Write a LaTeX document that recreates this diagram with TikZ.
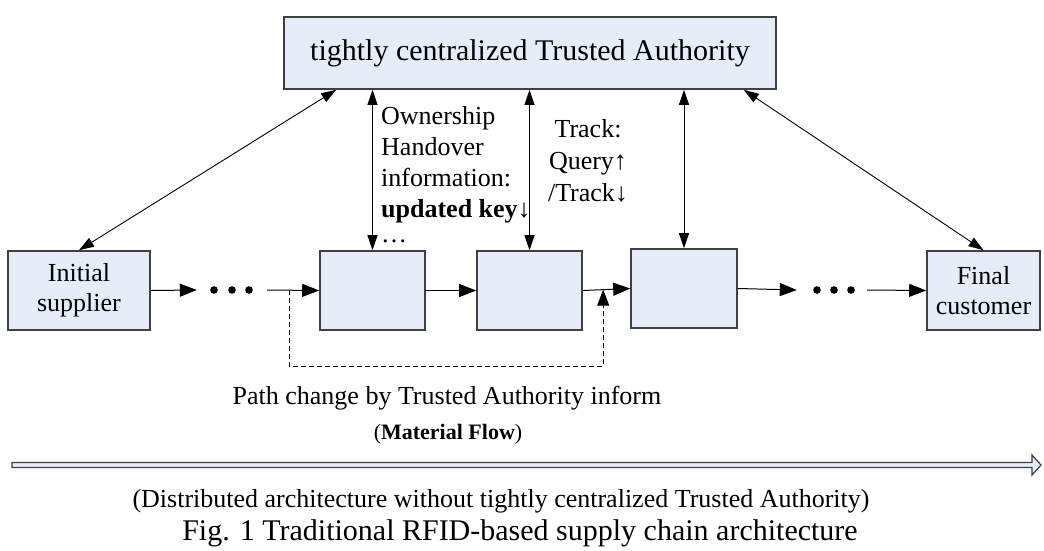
\documentclass[tikz,border=0pt]{standalone}
\usepackage{fontspec}
\setmainfont{Liberation Serif}
\usetikzlibrary{arrows.meta,calc}
\definecolor{boxfill}{RGB}{230,237,248}
\definecolor{boxline}{RGB}{64,64,64}
\begin{document}
\begin{tikzpicture}[x=1pt,y=-1pt,
  stage/.style={draw=boxline, line width=1.6pt, fill=boxfill, inner sep=0pt,
    minimum height=79pt, align=center, font=\fontsize{26}{30}\selectfont},
  flow/.style={line width=1pt, -{Triangle[length=17pt,width=13pt]}},
  link/.style={line width=0.9pt,
    {Triangle[length=15pt,width=10pt]}-{Triangle[length=15pt,width=10pt]}},
  lbl/.style={inner sep=0pt, font=\fontsize{26}{31}\selectfont},
  dotgap/.style={minimum width=70pt, minimum height=8pt, inner sep=0pt},
  reroute/.style={line width=0.9pt, dash pattern=on 5pt off 3pt,
    -{Triangle[length=16pt,width=12pt]}},
]
\useasboundingbox (0,0) rectangle (1044,550);

% trusted authority and supply chain stages
\node[stage, minimum width=492pt, minimum height=72pt,
  font=\fontsize{30}{36}\selectfont] (ta) at (530,53)
  {tightly centralized Trusted Authority};
\node[stage, minimum width=142pt] (init) at (79,290.5) {Initial\\supplier};
\node[stage, minimum width=105pt] (s2) at (372.5,290.5) {};
\node[stage, minimum width=105pt] (s3) at (529.5,290.5) {};
\node[stage, minimum width=106pt] (s4) at (684,288.5) {};
\node[stage, minimum width=113pt] (final) at (983.5,290.5) {Final\\customer};

% elided stages drawn as three dots
\node[dotgap] (dotsL) at (232,290) {};
\node[dotgap] (dotsR) at (832,290) {};
\foreach \dx in {-18,0,17} \fill ($(dotsL)+(\dx,0)$) circle (3.8pt);
\foreach \dx in {-15,2,19} \fill ($(dotsR)+(\dx,0)$) circle (3.8pt);

% material flow along the chain
\draw[flow] (init.east) -- (dotsL.west);
\draw[flow] (dotsL.east) -- (s2.west);
\draw[flow] (s2.east) -- (s3.west);
\draw[flow] (s3.east) -- (s4.west);
\draw[flow] (s4.east) -- (dotsR.west);
\draw[flow] (dotsR.east) -- (final.west);

% rerouted path
\coordinate (split) at ($(dotsL.east)!0.42!(s2.west)$);
\coordinate (merge) at ($(s3.east)!0.43!(s4.west)$);
\draw[reroute] (split) -- ++(0,76) -| (merge);

% links to the trusted authority
\draw[link] ($(ta.south west)+(53,0)$) -- (init.north);
\draw[link] (s2.north |- ta.south) -- (s2.north);
\draw[link] (s3.north |- ta.south) -- (s3.north);
\draw[link] (s4.north |- ta.south) -- (s4.north);
\draw[link] ($(ta.south east)+(-33,0)$) -- (final.north);

% labels
\node[lbl, anchor=north west, align=left] (own) at (381,106)
  {Ownership\\Handover\\information:\\\textbf{updated key}↓\\[-6pt]…};
\node[lbl, anchor=north, align=center, font=\fontsize{26}{32}\selectfont] (trk)
  at (588,119) {Track:\\Query↑\\/Track↓};
\node[lbl, anchor=base] (path) at (447,404) {Path change by Trusted Authority inform};
\node[inner sep=0pt, anchor=base, font=\fontsize{22}{26}\selectfont] (mat)
  at (448,439) {(\textbf{Material Flow})};

% hollow material flow arrow
\draw[draw=boxline, fill=boxfill, line width=1.2pt]
  (12,462.5) -- (1032,462.5) -- (1032,455) -- (1041,465) -- (1032,475)
  -- (1032,467.5) -- (12,467.5) -- cycle;

\node[lbl, anchor=base] (arch) at (501,507)
  {(Distributed architecture without tightly centralized Trusted Authority)};
\node[inner sep=0pt, anchor=base, font=\fontsize{30}{36}\selectfont] (cap)
  at (520,540) {Fig. 1 Traditional RFID-based supply chain architecture};
\end{tikzpicture}
\end{document}
